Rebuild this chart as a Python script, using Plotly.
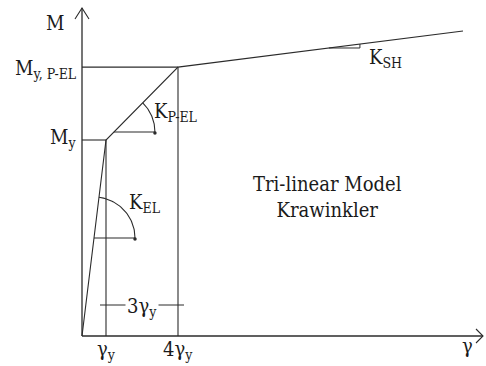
import numpy as np
import plotly.graph_objects as go

# Tri-linear moment-rotation backbone (Krawinkler); gamma in units of gamma_y, M in units of M_y
gamma_pts = [0.0, 1.0, 4.0, 15.875]
moment_pts = [0.0, 1.0, 1.372, 1.556]
tick_vals = [1.0, 4.0]
tick_text = ["γ<sub>y</sub>", "4γ<sub>y</sub>"]

W, H = 486, 366
X0_PX, Y0_PX = 82, 336          # origin on the canvas
SX, SY = 24.0, 196.0            # pixels per data unit

def dx(px):
    return px / SX

def dy(px):
    return px / SY

x_range = [-X0_PX / SX, (W - X0_PX) / SX]
y_range = [-(H - Y0_PX) / SY, Y0_PX / SY]

FONT = "DejaVu Serif Condensed, DejaVu Serif"
TXT = "#1a1a1a"
INK = "#2b2b2b"

fig = go.Figure()

def seg(xs, ys, width=1.1):
    fig.add_trace(go.Scatter(x=xs, y=ys, mode="lines",
                             line=dict(color=INK, width=width),
                             hoverinfo="skip", showlegend=False))

def dot(x, y, size=3.5):
    fig.add_trace(go.Scatter(x=[x], y=[y], mode="markers",
                             marker=dict(color=INK, size=size),
                             hoverinfo="skip", showlegend=False))

# axes with open arrowheads
x_end = x_range[1] - dx(3)
y_end = y_range[1] - dy(8)
seg([0, x_end], [0, 0], 1.3)
seg([0, 0], [0, y_end], 1.3)
seg([x_end - dx(7), x_end, x_end - dx(7)], [dy(7), 0, -dy(7)], 1.1)
seg([-dx(7), 0, dx(7)], [y_end - dy(11), y_end, y_end - dy(11)], 1.1)

# backbone curve
seg(gamma_pts, moment_pts, 1.1)

gy, gp, g_end = gamma_pts[1], gamma_pts[2], gamma_pts[3]
My, Mp, M_end = moment_pts[1], moment_pts[2], moment_pts[3]

# reference lines to the axes
seg([0, gy], [My, My])
seg([0, gp], [Mp, Mp])
seg([gy, gy], [0, My])
seg([gp, gp], [0, Mp])

# stiffness angle arcs
def angle_arc(gx, my_, slope_px_angle, r_px=41):
    th = np.linspace(0, slope_px_angle, 40)
    seg([gx, gx + dx(r_px)], [my_, my_])
    seg(gx + dx(r_px) * np.cos(th), my_ + dy(r_px) * np.sin(th))
    dot(gx + dx(r_px), my_ - dy(1))

# elastic branch
m_el = 0.5
g_el = gy * m_el / My
ang_el = np.arctan2((My - 0) * SY, (gy - 0) * SX)
angle_arc(g_el, m_el, ang_el)

# post-elastic branch
m_pel = 1.041
g_pel = gy + (m_pel - My) / (Mp - My) * (gp - gy)
ang_pel = np.arctan2((Mp - My) * SY, (gp - gy) * SX)
angle_arc(g_pel, m_pel, ang_pel)

# strain-hardening slope triangle
k_sh = (M_end - Mp) / (g_end - gp)
g_t2 = 11.58
g_t1 = g_t2 - dx(31)
m_t1 = Mp + k_sh * (g_t1 - gp)
m_t2 = Mp + k_sh * (g_t2 - gp)
seg([g_t1, g_t2, g_t2], [m_t1, m_t1, m_t2], 1.0)

# 3 gamma_y dimension line
m_dim = dy(31)
seg([gy - dx(6), gp + dx(6)], [m_dim, m_dim], 1.0)

ann = []
def label(x, y, text, size=20, xanchor="center", yanchor="middle", bg=None, yshift=0):
    a = dict(x=x, y=y, xref="x", yref="y", text=text, showarrow=False,
             xanchor=xanchor, yanchor=yanchor, yshift=yshift,
             font=dict(family=FONT, size=size, color=TXT))
    if bg:
        a["bgcolor"] = bg
    ann.append(a)

label(dx(55 - X0_PX), dy(Y0_PX - 23), "M")
label(-dx(3), Mp, "M<sub>y, P-EL</sub>", xanchor="right", yshift=-2)
label(-dx(4), My, "M<sub>y</sub>", xanchor="right", yshift=2)
label(g_el + dx(33), m_el + dy(37), "K<sub>EL</sub>", xanchor="left", yshift=-2)
label(g_pel + dx(38), m_pel + dy(22), "K<sub>P-EL</sub>", xanchor="left", yshift=-2)
label(g_t2 + dx(7), m_t1 - dy(8), "K<sub>SH</sub>", xanchor="left", yshift=-2)
label((gy + gp) / 2, m_dim, "3γ<sub>y</sub>", bg="white", yshift=-2)
label(dx(327 - X0_PX), dy(Y0_PX - 197), "Tri-linear Model<br>Krawinkler")
for tv, tt in zip(tick_vals, tick_text):
    label(tv, -dy(14), tt)
label(dx(467 - X0_PX), -dy(10), "γ")

fig.update_layout(
    width=W, height=H, autosize=False,
    margin=dict(l=0, r=0, t=0, b=0),
    paper_bgcolor="white", plot_bgcolor="white",
    font=dict(family=FONT),
    xaxis=dict(range=x_range, visible=False, fixedrange=True),
    yaxis=dict(range=y_range, visible=False, fixedrange=True),
    annotations=ann,
    showlegend=False,
)

fig.write_html("out.html")
